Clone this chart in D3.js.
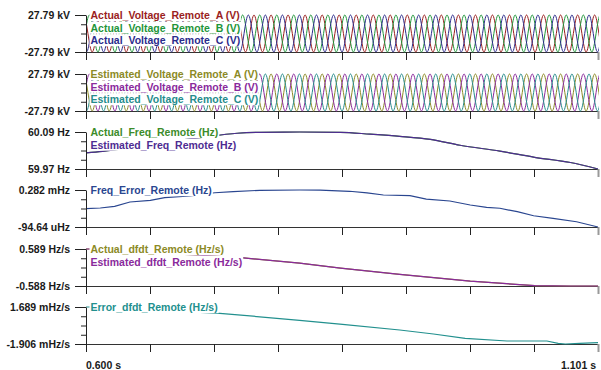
<!DOCTYPE html>
<html>
<head>
<meta charset="utf-8">
<script src="https://cdn.jsdelivr.net/npm/d3@7"></script>
<style>
  body { margin: 0; background: #fff; }
  svg text { font-family: "Liberation Sans", Arial, sans-serif; font-weight: bold; font-size: 10.5px; }
</style>
</head>
<body>
<svg id="chart" width="601" height="370"></svg>
<script>
// time axis (seconds)
var timeRangeS = [0.600, 1.101];
var timeLabels = ["0.600 s", "1.101 s"];

// three phase voltages: peak / trough times of phase A, B and C lag by 1/3 and 2/3 cycle
var voltPeakKV = 27.79;
var phaseAPeaksMs = [581.1, 597.7, 614.4, 631.1, 647.7, 664.4, 681.1, 697.7, 714.4, 731.1, 747.7,
    764.4, 781.1, 797.7, 814.4, 831.1, 847.7, 864.4, 881.1, 897.7, 914.4, 931.1, 947.7, 964.4,
    981.1, 997.7, 1014.4, 1031.1, 1047.7, 1064.4, 1081.1, 1097.7, 1114.4];
var phaseATroughsMs = [572.7, 589.4, 606.1, 622.7, 639.4, 656.1, 672.7, 689.4, 706.1, 722.7, 739.4,
    756.1, 772.7, 789.4, 806.1, 822.7, 839.4, 856.1, 872.7, 889.4, 906.1, 922.7, 939.4, 956.1,
    972.7, 989.4, 1006.1, 1022.7, 1039.4, 1056.1, 1072.7, 1089.4, 1106.1];
var phaseShiftMs = [0, 5.56, 11.11];

// frequency
var freqTimesMs = [600, 616, 663, 712, 748, 770, 809, 849, 878, 907, 937, 966, 1005, 1039, 1074, 1101];
var freqActualHz = [60.022, 60.027, 60.050, 60.072, 60.086, 60.089, 60.090, 60.089, 60.083, 60.076,
    60.066, 60.047, 60.028, 60.008, 59.991, 59.970];
var freqEstimatedHz = [60.022, 60.027, 60.050, 60.072, 60.086, 60.089, 60.090, 60.089, 60.083, 60.076,
    60.066, 60.047, 60.028, 60.008, 59.991, 59.970];

// frequency error (uHz)
var freqErrTimesMs = [600, 614, 628, 643, 663, 677, 702, 726, 744, 770, 809, 829, 858, 875, 891, 917,
    933, 956, 976, 992, 1005, 1022, 1038, 1057, 1080, 1101];
var freqErrorUHz = [92, 99, 116, 160, 177, 204, 221, 254, 265, 279, 282, 280, 269, 252, 231, 224,
    190, 170, 129, 106, 96, 61, 20, -6, -41, -94.64];

// df/dt (Hz/s)
var dfdtTimesMs = [600, 605, 620, 663, 712, 754, 809, 849, 907, 976, 1039, 1074, 1101];
var dfdtActual = [0.589, 0.589, 0.55, 0.47, 0.39, 0.304, 0.141, -0.022, -0.219, -0.434, -0.578, -0.588, -0.588];
var dfdtEstimated = [0.589, 0.589, 0.55, 0.47, 0.39, 0.304, 0.141, -0.022, -0.219, -0.434, -0.578, -0.588, -0.588];

// df/dt error (mHz/s)
var dfdtErrTimesMs = [600, 606, 663, 731, 809, 851, 907, 940, 971, 1012, 1051, 1062, 1069, 1083, 1101];
var dfdtErrorMHz = [1.689, 1.689, 1.40, 1.077, 0.396, 0.008, -0.547, -0.935, -1.353, -1.616, -1.616,
    -1.839, -1.906, -1.839, -1.781];

var pairs = function (times, values) {
    return times.map(function (t, i) { return {t: t / 1000, v: values[i]}; });
};

var phase = function (k) {
    var pts = phaseAPeaksMs.map(function (t) { return {t: (t + phaseShiftMs[k]) / 1000, v: voltPeakKV}; })
        .concat(phaseATroughsMs.map(function (t) { return {t: (t + phaseShiftMs[k]) / 1000, v: -voltPeakKV}; }));
    return pts.sort(function (a, b) { return a.t - b.t; });
};

var panels = [
    {domain: [-27.79, 27.79], ticks: ["27.79 kV", "-27.79 kV"], curve: d3.curveMonotoneX, series: [
        {name: "Actual_Voltage_Remote_A (V)", color: "#9a1e1e", data: phase(0)},
        {name: "Actual_Voltage_Remote_B (V)", color: "#1f953a", data: phase(1)},
        {name: "Actual_Voltage_Remote_C (V)", color: "#2c2c8c", data: phase(2)}]},
    {domain: [-27.79, 27.79], ticks: ["27.79 kV", "-27.79 kV"], curve: d3.curveMonotoneX, series: [
        {name: "Estimated_Voltage_Remote_A (V)", color: "#8c8a26", data: phase(0)},
        {name: "Estimated_Voltage_Remote_B (V)", color: "#8a2a9c", data: phase(1)},
        {name: "Estimated_Voltage_Remote_C (V)", color: "#268c8c", data: phase(2)}]},
    {domain: [59.97, 60.09], ticks: ["60.09 Hz", "59.97 Hz"], curve: d3.curveMonotoneX, series: [
        {name: "Actual_Freq_Remote (Hz)", color: "#3c8c2a", data: pairs(freqTimesMs, freqActualHz)},
        {name: "Estimated_Freq_Remote (Hz)", color: "#4e2c92", data: pairs(freqTimesMs, freqEstimatedHz)}]},
    {domain: [-94.64, 282], ticks: ["0.282 mHz", "-94.64 uHz"], curve: d3.curveLinear, series: [
        {name: "Freq_Error_Remote (Hz)", color: "#2a4690", data: pairs(freqErrTimesMs, freqErrorUHz)}]},
    {domain: [-0.588, 0.589], ticks: ["0.589 Hz/s", "-0.588 Hz/s"], curve: d3.curveLinear, series: [
        {name: "Actual_dfdt_Remote (Hz/s)", color: "#8c8a26", data: pairs(dfdtTimesMs, dfdtActual)},
        {name: "Estimated_dfdt_Remote (Hz/s)", color: "#8a2a9c", data: pairs(dfdtTimesMs, dfdtEstimated)}]},
    {domain: [-1.906, 1.689], ticks: ["1.689 mHz/s", "-1.906 mHz/s"], curve: d3.curveLinear, series: [
        {name: "Error_dfdt_Remote (Hz/s)", color: "#22908e", data: pairs(dfdtErrTimesMs, dfdtErrorMHz)}]}
];

var svg = d3.select("#chart");
var left = 86, right = 598, panelH = 37;
var panelTops = [15, 74, 132, 190, 249, 307];

var x = d3.scaleLinear().domain(timeRangeS).range([left, right]);
var xTicks = d3.range(9).map(function (i) {
    return timeRangeS[0] + i * (timeRangeS[1] - timeRangeS[0]) / 8;
});

svg.append("rect").attr("width", 601).attr("height", 370).attr("fill", "#fff");

panels.forEach(function (p, pi) {
    var top = panelTops[pi], bottom = top + panelH;
    var y = d3.scaleLinear().domain(p.domain).range([bottom, top]);
    var g = svg.append("g");

    var clipId = "clip" + pi;
    svg.append("clipPath").attr("id", clipId)
        .append("rect").attr("x", left).attr("y", top - 2)
        .attr("width", right - left + 1).attr("height", panelH + 4);

    var line = d3.line()
        .x(function (d) { return x(d.t); })
        .y(function (d) { return y(d.v); })
        .curve(p.curve);

    // x axis with ticks below the baseline
    var xg = g.append("g").attr("transform", "translate(0," + bottom + ")")
        .call(d3.axisBottom(x).tickValues(xTicks).tickSize(8).tickFormat("").tickSizeOuter(0));
    xg.select(".domain").attr("stroke", "#333");
    xg.selectAll(".tick line").attr("stroke", "#222");
    xg.selectAll(".tick:last-of-type line").attr("stroke", "#999").attr("stroke-width", 2);

    p.series.forEach(function (s) {
        g.append("path")
            .datum(s.data)
            .attr("clip-path", "url(#" + clipId + ")")
            .attr("fill", "none")
            .attr("stroke", s.color)
            .attr("stroke-width", pi < 2 ? 1 : 1.2)
            .attr("d", line);
    });

    // y axis: labelled ends plus small minor ticks
    var yg = g.append("g").attr("transform", "translate(" + left + ",0)")
        .call(d3.axisLeft(y).tickValues([p.domain[1], p.domain[0]])
            .tickFormat(function (d, i) { return p.ticks[i]; })
            .tickSize(11).tickPadding(5).tickSizeOuter(0));
    yg.select(".domain").attr("stroke", "#222");
    yg.selectAll(".tick line").attr("stroke", "#222");
    yg.selectAll(".tick text").attr("fill", "#1a1a1a").style("font-size", "10.5px")
        .attr("font-family", null);

    var minor = d3.range(1, 4).map(function (k) {
        return p.domain[0] + k * (p.domain[1] - p.domain[0]) / 4;
    });
    var mg = g.append("g").attr("transform", "translate(" + left + ",0)")
        .call(d3.axisLeft(y).tickValues(minor).tickSize(5).tickFormat("").tickSizeOuter(0));
    mg.select(".domain").remove();
    mg.selectAll(".tick line").attr("stroke", "#222");

    // legend, on white boxes over the traces
    p.series.forEach(function (s, i) {
        var t = g.append("text")
            .attr("x", left + 4.5)
            .attr("y", top + 0.5 + 12.5 * i)
            .attr("dy", "0.35em")
            .attr("fill", s.color)
            .text(s.name);
        var bb = t.node().getBBox();
        g.insert("rect", function () { return t.node(); })
            .attr("x", bb.x - 1).attr("y", bb.y)
            .attr("width", bb.width + 2).attr("height", bb.height)
            .attr("fill", "#fff");
    });
});

svg.append("text").attr("x", left).attr("y", 369).attr("fill", "#1a1a1a").text(timeLabels[0]);
svg.append("text").attr("x", 596).attr("y", 369).attr("text-anchor", "end").attr("fill", "#1a1a1a").text(timeLabels[1]);
</script>
</body>
</html>
